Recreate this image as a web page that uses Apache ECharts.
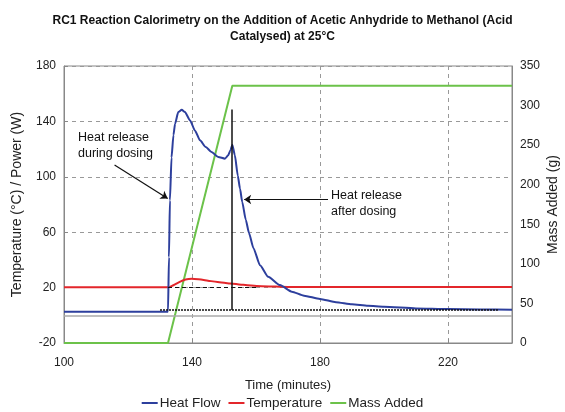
<!DOCTYPE html>
<html>
<head>
<meta charset="utf-8">
<script src="https://cdn.jsdelivr.net/npm/echarts@6/dist/echarts.min.js"></script>
<style>html,body{margin:0;padding:0;background:#fff}#c{width:565px;height:412px}</style>
</head>
<body>
<div id="c"></div>
<script>
var heatTime = [100,130,132.5,132.8,133.1,133.6,134.2,134.7,135.7,136.8,137.8,139.4,141,142.5,144.3,146.1,148.2,150.3,151.3,152,152.6,153.4,154.3,155,155.7,156.8,157.8,159.2,161.25,163.8,167.5,171.2,175,180,185,190,195,200,210,220,230,240];
var heatFlow = [2.5,2.5,2.6,42,83,114,130,138.3,146.7,148.4,146.7,140.7,133,126.3,121.5,117.9,114.3,113.1,115.5,119,123.2,115.5,101,91.5,81.8,69,59.5,48.5,36.2,27.8,21.8,17,14.2,11.8,9.5,7.9,6.9,6.2,5,4.5,4.2,4];
var tempTime = [100,132.6,134,136,138,139.9,142,145,148,151.9,156,160.2,165,170,240];
var temperature = [20.3,20.3,21.5,24,25.8,26.4,26,25,24,23,22,21.2,20.8,20.5,20.5];
var massTime = [100,132.5,152.6,240];
var massAdded = [0,0,325,325];
var xTicks = [100,140,180,220];
var yLeftTicks = [-20,20,60,100,140,180];
var yRightTicks = [0,50,100,150,200,250,300,350];

function zip(a,b){return a.map(function(v,i){return [v,b[i]];});}

var font = 'Liberation Sans, Arial, sans-serif';
var chart = echarts.init(document.getElementById('c'));
chart.setOption({
  animation:false,
  backgroundColor:'#fff',
  title:{
    text:'RC1 Reaction Calorimetry on the Addition of Acetic Anhydride to Methanol (Acid\nCatalysed) at 25°C',
    left:'center', top:8,
    textStyle:{fontFamily:font,fontSize:12,fontWeight:'bold',color:'#111',lineHeight:16,align:'center'}
  },
  grid:{left:64,right:53,top:66,bottom:69,show:true,borderColor:'#888',borderWidth:1,outerBoundsMode:'none',containLabel:false},
  legend:{
    top:391,left:'center',
    icon:'rect',itemWidth:16,itemHeight:2,itemGap:8,
    textStyle:{fontFamily:font,fontSize:13.5,color:'#222',padding:[0,0,0,-3]},
    data:['Heat Flow','Temperature','Mass Added']
  },
  xAxis:{
    type:'value',min:100,max:240,interval:40,
    name:'Time (minutes)',nameLocation:'middle',nameGap:36,
    nameTextStyle:{fontFamily:font,fontSize:13,color:'#222'},
    axisLine:{onZero:false,lineStyle:{color:'#888'}},
    axisTick:{inside:true,length:4,lineStyle:{color:'#888'}},
    axisLabel:{fontFamily:font,fontSize:12,color:'#222',margin:14,showMaxLabel:false,
      formatter:function(v){return xTicks.indexOf(v)>=0?String(v):'';}},
    splitLine:{show:true,lineStyle:{color:'#999',type:[4,4],width:1}}
  },
  yAxis:[{
    type:'value',min:-20,max:180,interval:40,
    name:'Temperature (°C) / Power (W)',nameLocation:'middle',nameGap:40,
    nameTextStyle:{fontFamily:font,fontSize:14,color:'#222'},
    axisLine:{show:true,lineStyle:{color:'#888'}},
    axisTick:{show:true,inside:true,length:4,lineStyle:{color:'#888'}},
    axisLabel:{fontFamily:font,fontSize:12,color:'#222',margin:8,
      formatter:function(v){return yLeftTicks.indexOf(v)>=0?String(v):'';}},
    splitLine:{show:true,lineStyle:{color:'#999',type:[4,4],width:1}}
  },{
    type:'value',min:0,max:350,interval:50,position:'right',
    name:'Mass Added (g)',nameLocation:'middle',nameGap:34,nameMoveOverlap:false,
    nameTextStyle:{fontFamily:font,fontSize:14,color:'#222'},
    axisLine:{show:true,lineStyle:{color:'#888'}},
    axisTick:{show:false},
    axisLabel:{fontFamily:font,fontSize:12,color:'#222',margin:8,
      formatter:function(v){return yRightTicks.indexOf(v)>=0?String(v):'';}},
    splitLine:{show:false}
  }],
  series:[
    {
      name:'Mass Added',type:'line',yAxisIndex:1,symbol:'none',
      data:zip(massTime,massAdded),
      lineStyle:{color:'#6cc24a',width:2},itemStyle:{color:'#6cc24a'},z:2
    },
    {
      name:'Temperature',type:'line',yAxisIndex:0,symbol:'none',smooth:0.3,
      data:zip(tempTime,temperature),
      lineStyle:{color:'#e3262b',width:2},itemStyle:{color:'#e3262b'},z:3
    },
    {
      name:'Heat Flow',type:'line',yAxisIndex:0,symbol:'none',smooth:0.2,smoothMonotone:'x',
      data:zip(heatTime,heatFlow),
      lineStyle:{color:'#2d3f9d',width:2},itemStyle:{color:'#2d3f9d'},z:4,
      markLine:{
        silent:true,symbol:'none',animation:false,label:{show:false},
        data:[
          [{coord:[100,0],lineStyle:{color:'#aaa',width:1.5,type:'solid'}},{coord:[240,0]}],
          [{coord:[130,3.8],lineStyle:{color:'#111',width:1.5,type:[2,1]}},{coord:[235.6,3.8]}],
          [{coord:[132.5,20],lineStyle:{color:'#111',width:1,type:[4,3]}},{coord:[160.3,20]}],
          [{coord:[152.4,148.6],lineStyle:{color:'#111',width:1.5,type:'solid'}},{coord:[152.4,3.8]}],
          [{coord:[115.8,108.5],symbol:'none',lineStyle:{color:'#111',width:1.2,type:'solid'}},{coord:[132.4,84.3],symbol:'arrow',symbolSize:7}],
          [{coord:[182.5,83.6],symbol:'none',lineStyle:{color:'#111',width:1.2,type:'solid'}},{coord:[156.3,83.6],symbol:'arrow',symbolSize:7}]
        ]
      }
    }
  ],
  graphic:[
    {type:'text',left:78,top:130,style:{text:'Heat release\nduring dosing',font:'12.5px '+font,fill:'#111',lineHeight:16}},
    {type:'text',left:331,top:188,style:{text:'Heat release\nafter dosing',font:'12.5px '+font,fill:'#111',lineHeight:16}}
  ]
});
</script>
</body>
</html>
